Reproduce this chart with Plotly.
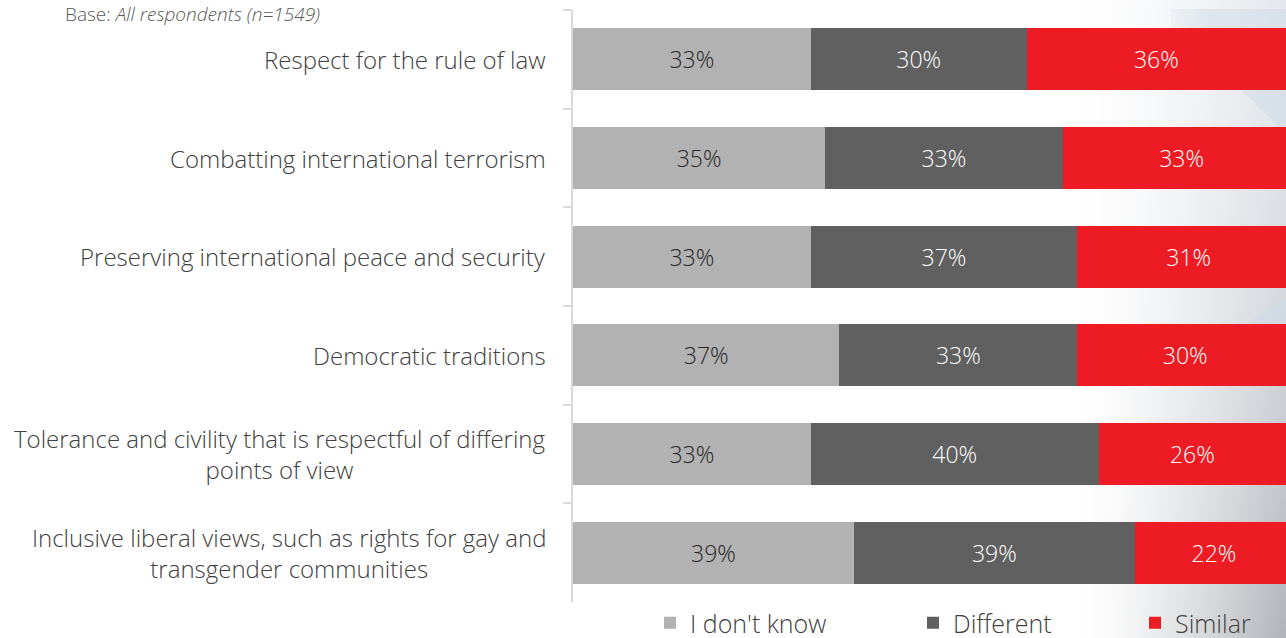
import base64
import struct
import zlib

import numpy as np
import plotly.graph_objects as go

# ---- data -------------------------------------------------------------
categories = [
    "Respect for the rule of law",
    "Combatting international terrorism",
    "Preserving international peace and security",
    "Democratic traditions",
    "Tolerance and civility that is respectful of differing<br>points of view",
    "Inclusive liberal views, such as rights for gay and<br>transgender communities",
]
dont_know = [33, 35, 33, 37, 33, 39]
different = [30, 33, 37, 33, 40, 39]
similar = [36, 33, 31, 30, 26, 22]

series_names = ["I don't know", "Different", "Similar"]
series_colors = ["#b2b2b2", "#606060", "#ed1c24"]
label_colors = ["#262626", "#ffffff", "#ffffff"]

W, H = 1286, 638
M_L, M_R, M_T, M_B = 573, 0, 10, 36
PW, PH = W - M_L - M_R, H - M_T - M_B

FONT = "Open Sans"
WEIGHT = 300
TEXT = "#404040"


def px_x(px):
    return (px - M_L) / PW


def px_y(py):
    return (H - M_B - py) / PH


# ---- soft grey backdrop on the right edge (built as a small PNG) -------
def make_png(rgb):
    h, w, _ = rgb.shape
    raw = b"".join(b"\x00" + rgb[r].tobytes() for r in range(h))

    def chunk(tag, data):
        c = tag + data
        return struct.pack(">I", len(data)) + c + struct.pack(">I", zlib.crc32(c) & 0xFFFFFFFF)

    png = b"\x89PNG\r\n\x1a\n"
    png += chunk(b"IHDR", struct.pack(">IIBBBBB", w, h, 8, 2, 0, 0, 0))
    png += chunk(b"IDAT", zlib.compress(raw, 9))
    png += chunk(b"IEND", b"")
    return "data:image/png;base64," + base64.b64encode(png).decode()


BG_X0 = 1000
bw, bh = W - BG_X0, H
xs = np.arange(bw)[None, :] + BG_X0
ys = np.arange(bh)[:, None].astype(float)
fade = np.clip((xs - 1085) / (W - 1085), 0, 1) ** 1.3
grey = 232 - 52 * (ys / H) ** 1.6
r = 255 - (255 - (grey - 4)) * fade
g = 255 - (255 - (grey - 1)) * fade
b = 255 - (255 - (grey + 4)) * fade
# pale blue streaks
streak1 = ((ys > 8) & (ys < 18 + (xs - 1165) * 0.95) & (xs > 1170)).astype(float)
streak2 = ((ys > 300) & (ys < 335) & (ys > 330 - (xs - 1235) * 0.7)).astype(float)
streak = np.clip(streak1 * 0.55 + streak2 * 0.6, 0, 1) * np.clip((xs - 1150) / 60, 0, 1)
r = r * (1 - streak) + 208 * streak
g = g * (1 - streak) + 220 * streak
b = b * (1 - streak) + 232 * streak
bg_rgb = np.stack([r, g, b], axis=-1).clip(0, 255).astype(np.uint8)
bg_src = make_png(np.ascontiguousarray(bg_rgb))

# ---- figure -------------------------------------------------------------
fig = go.Figure()
for i, (name, vals) in enumerate(zip(series_names, [dont_know, different, similar])):
    fig.add_trace(
        go.Bar(
            y=categories,
            x=vals,
            name=name,
            orientation="h",
            marker=dict(color=series_colors[i], line=dict(width=0)),
            text=[f"{v}%" for v in vals],
            textposition="inside",
            insidetextanchor="middle",
            textangle=0,
            constraintext="none",
            textfont=dict(family=FONT, size=23, color=label_colors[i], weight=WEIGHT),
            hoverinfo="skip",
            legend=["legend", "legend2", "legend3"][i],
        )
    )

legend_x = [665, 928, 1150]
legend_common = dict(
    orientation="h",
    yanchor="middle",
    y=px_y(623),
    xanchor="left",
    bgcolor="rgba(0,0,0,0)",
    font=dict(family=FONT, size=25, color=TEXT, weight=WEIGHT),
    itemwidth=30,
    tracegroupgap=0,
)
layout_legends = {}
for key, lx in zip(["legend", "legend2", "legend3"], legend_x):
    layout_legends[key] = dict(legend_common, x=px_x(lx - 15))

annotations = [
    dict(
        xref="paper", yref="y", x=0, y=cat, xshift=-25,
        xanchor="right", yanchor="middle", align="center",
        text=cat, showarrow=False,
        font=dict(family=FONT, size=24, color=TEXT, weight=WEIGHT),
    )
    for cat in categories
]
annotations.append(
    dict(
        xref="paper", yref="paper", x=px_x(63), y=px_y(-1),
        xanchor="left", yanchor="top", align="left",
        text="Base: <i>All respondents (n=1549)</i>", showarrow=False,
        font=dict(family=FONT, size=19, color="#595959", weight=WEIGHT),
    )
)

fig.update_layout(
    width=W,
    height=H,
    margin=dict(l=M_L, r=M_R, t=M_T, b=M_B, pad=0, autoexpand=False),
    barmode="stack",
    bargap=0.37,
    paper_bgcolor="#ffffff",
    plot_bgcolor="rgba(0,0,0,0)",
    showlegend=True,
    annotations=annotations,
    images=[
        dict(
            source=bg_src,
            xref="paper", yref="paper",
            x=px_x(BG_X0), y=px_y(0),
            sizex=bw / PW, sizey=bh / PH,
            xanchor="left", yanchor="top",
            sizing="stretch", layer="below",
        )
    ],
    xaxis=dict(
        range=[0, 99],
        showgrid=False,
        zeroline=False,
        showticklabels=False,
        showline=False,
        ticks="",
        fixedrange=True,
    ),
    yaxis=dict(
        type="category",
        autorange="reversed",
        showgrid=False,
        zeroline=False,
        showline=True,
        linecolor="#d9d9d9",
        linewidth=1.5,
        ticks="outside",
        tickson="boundaries",
        ticklen=8,
        tickcolor="#d9d9d9",
        tickwidth=1.5,
        showticklabels=False,
        fixedrange=True,
    ),
    **layout_legends,
)

fig.write_html("out.html")
